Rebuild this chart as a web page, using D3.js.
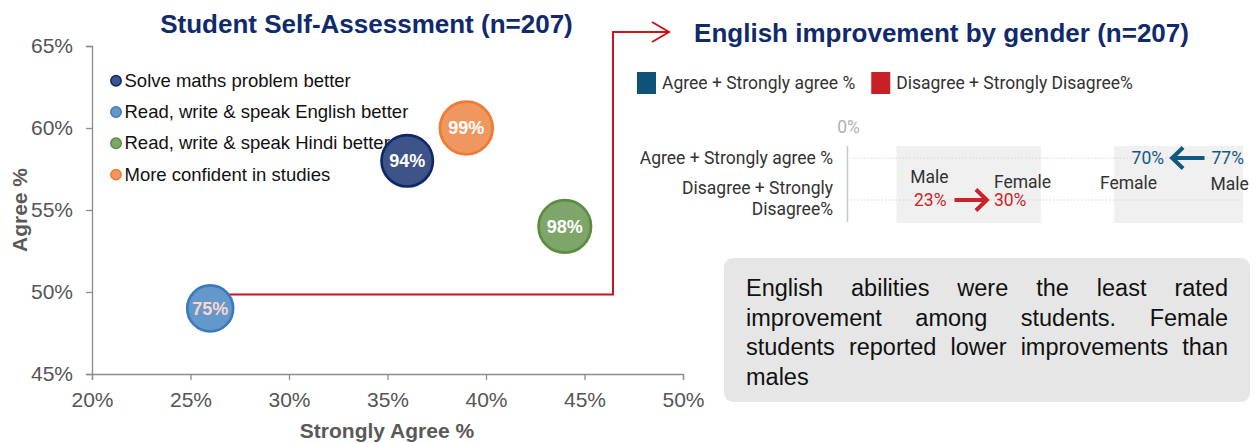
<!DOCTYPE html>
<html>
<head>
<meta charset="utf-8">
<script src="https://cdn.jsdelivr.net/npm/d3@7"></script>
<style>
  html, body { margin: 0; padding: 0; background: #fff; }
  svg { display: block; }
</style>
</head>
<body>
<svg id="chart" width="1257" height="443"></svg>
<script>
// ---------- Student self-assessment (bubble chart) ----------
const skills = [
  "Solve maths problem better",
  "Read, write & speak English better",
  "Read, write & speak Hindi better",
  "More confident in studies"
];
const stronglyAgreePct = [36, 26, 44, 39];
const agreePct = [58, 49, 54, 60];
const totalAgreePct = [94, 75, 98, 99];
const xTickValues = [20, 25, 30, 35, 40, 45, 50];
const yTickValues = [45, 50, 55, 60, 65];

// ---------- English improvement by gender ----------
const responses = ["Agree + Strongly agree %", "Disagree + Strongly Disagree%"];
const malePct = [77, 23];
const femalePct = [70, 30];
const genders = ["Male", "Female"];
const axisTicks = [0];

const noteLines = [
  "English abilities were the least rated",
  "improvement among students. Female",
  "students reported lower improvements than",
  "males"
];

const ARIAL = "'Liberation Sans', Arial, Helvetica, sans-serif";
const ROBOTO = "Roboto, 'Noto Sans', sans-serif";
const svg = d3.select("#chart");

// ===== Left panel =====
const x = d3.scaleLinear().domain([20, 50]).range([92, 683]);
const y = d3.scaleLinear().domain([45, 65]).range([374, 46]);
const r = d3.scaleSqrt().domain([0, 100]).range([0, 26.5]);
const bubbleFill = ["#3e5488", "#6598ca", "#7ea66a", "#f0975f"];
const bubbleStroke = ["#0e2868", "#3b7bbd", "#5b8d3d", "#ee7b35"];
const bubbleText = ["#ffffff", "#fad5cd", "#ffffff", "#ffffff"];

svg.append("text")
  .attr("x", 366.5).attr("y", 33)
  .attr("text-anchor", "middle")
  .style("font", `bold 26px ${ARIAL}`)
  .attr("fill", "#102a6b")
  .text("Student Self-Assessment (n=207)");

const xAxisG = svg.append("g")
  .attr("transform", "translate(0,374)")
  .call(d3.axisBottom(x).tickValues(xTickValues).tickSize(6).tickPadding(12).tickFormat(d => d + "%"));
const yAxisG = svg.append("g")
  .attr("transform", "translate(92,0)")
  .call(d3.axisLeft(y).tickValues(yTickValues).tickSize(6).tickPadding(13).tickFormat(d => d + "%"));
[xAxisG, yAxisG].forEach(g => {
  g.selectAll("path, line").attr("stroke", "#8c8c8c").attr("stroke-width", 1.3);
  g.selectAll("text").attr("fill", "#555555").style("font", `21px ${ARIAL}`);
});

svg.append("text")
  .attr("transform", "translate(27,210) rotate(-90)")
  .attr("text-anchor", "middle")
  .style("font", `bold 21px ${ARIAL}`)
  .attr("fill", "#595959")
  .text("Agree %");

svg.append("text")
  .attr("x", 387).attr("y", 438)
  .attr("text-anchor", "middle")
  .style("font", `bold 21px ${ARIAL}`)
  .attr("fill", "#595959")
  .text("Strongly Agree %");

// legend
const legend = svg.append("g");
skills.forEach((s, i) => {
  const by = 86.7 + i * 31.3;
  legend.append("circle")
    .attr("cx", 116).attr("cy", by - 6).attr("r", 5.2)
    .attr("fill", bubbleFill[i]).attr("stroke", bubbleStroke[i]).attr("stroke-width", 1.5);
  legend.append("text")
    .attr("x", 124.5).attr("y", by)
    .style("font", `18.5px ${ARIAL}`)
    .attr("fill", "#111")
    .text(s);
});

// connector from the English bubble to the gender panel
const cx0 = x(stronglyAgreePct[1]) + 12;
const cy0 = y(agreePct[1]) - 14;
svg.append("path")
  .attr("d", `M${cx0},${cy0} H613 V32 H668`)
  .attr("fill", "none").attr("stroke", "#c9141c").attr("stroke-width", 2);
svg.append("path")
  .attr("d", "M652,22 L669,32 L652,42")
  .attr("fill", "none").attr("stroke", "#c9141c").attr("stroke-width", 2);

// bubbles
const bubbles = svg.append("g").selectAll("g")
  .data(skills.map((s, i) => ({ s, i, sx: stronglyAgreePct[i], ay: agreePct[i], t: totalAgreePct[i] })))
  .join("g")
  .attr("transform", d => `translate(${x(d.sx)},${y(d.ay)})`);
bubbles.append("circle")
  .attr("r", d => r(d.t))
  .attr("fill", d => bubbleFill[d.i])
  .attr("stroke", d => bubbleStroke[d.i])
  .attr("stroke-width", 2.7);
bubbles.append("text")
  .attr("text-anchor", "middle")
  .attr("dy", "0.36em")
  .style("font", `bold 18px ${ARIAL}`)
  .attr("fill", d => bubbleText[d.i])
  .text(d => d.t + "%");

// ===== Right panel =====
svg.append("text")
  .attr("x", 941.5).attr("y", 42)
  .attr("text-anchor", "middle")
  .style("font", `bold 26px ${ARIAL}`)
  .attr("fill", "#102a6b")
  .text("English improvement by gender (n=207)");

const rowColor = ["#0f5a80", "#cc2229"];
const swatchColor = ["#0e5277", "#c91f26"];

// legend
const rl = svg.append("g");
let lx = 637;
responses.forEach((resp, i) => {
  rl.append("rect").attr("x", lx).attr("y", 72).attr("width", 19).attr("height", 22).attr("fill", swatchColor[i]);
  const t = rl.append("text")
    .attr("x", lx + 25).attr("y", 89)
    .style("font", `17.5px ${ROBOTO}`)
    .attr("fill", "#333")
    .text(resp);
  lx += 25 + t.node().getComputedTextLength() + 16;
});

const gx = d3.scaleLinear().domain([0, 100]).range([848, 1311]);
const gy = d3.scalePoint().domain(responses).range([158, 200]);
const plotRight = 1243;

const rows = responses.map((resp, i) => {
  const lo = Math.min(malePct[i], femalePct[i]);
  const hi = Math.max(malePct[i], femalePct[i]);
  return { resp, i, male: malePct[i], female: femalePct[i], lo, hi,
           loGender: malePct[i] <= femalePct[i] ? genders[0] : genders[1],
           hiGender: malePct[i] <= femalePct[i] ? genders[1] : genders[0] };
});

// highlight bands behind each pair
svg.append("g").selectAll("rect")
  .data(rows)
  .join("rect")
  .attr("x", d => gx(d.lo) - 58)
  .attr("y", 146)
  .attr("width", d => Math.min(gx(d.hi) + 54, plotRight) - (gx(d.lo) - 58))
  .attr("height", 77)
  .attr("fill", "#f0f0f0");

// dotted row guides
svg.append("g").selectAll("line")
  .data(responses)
  .join("line")
  .attr("x1", 850).attr("x2", plotRight)
  .attr("y1", d => gy(d)).attr("y2", d => gy(d))
  .attr("stroke", "#d4d4d4").attr("stroke-width", 1).attr("stroke-dasharray", "1.5,2");

// value axis: only the zero tick, drawn on top
const topAxis = svg.append("g")
  .attr("transform", "translate(0,146)")
  .call(d3.axisTop(gx).tickValues(axisTicks).tickSize(0).tickPadding(13).tickFormat(d => d + "%"));
topAxis.select(".domain").remove();
topAxis.selectAll("text").attr("fill", "#b0b0b0").style("font", `17.5px ${ROBOTO}`);

svg.append("line")
  .attr("x1", gx(0) - 0.5).attr("x2", gx(0) - 0.5)
  .attr("y1", 146).attr("y2", 222)
  .attr("stroke", "#c8c8c8").attr("stroke-width", 1.5);

// row labels, wrapped to the label column width
const labelG = svg.append("g");
responses.forEach(resp => {
  const words = resp.split(" ");
  const lines = [];
  let cur = [];
  const probe = labelG.append("text").style("font", `17.5px ${ROBOTO}`);
  words.forEach(w => {
    const test = cur.concat([w]).join(" ");
    probe.text(test);
    if (cur.length && probe.node().getComputedTextLength() > 200) {
      lines.push(cur.join(" "));
      cur = [w];
    } else {
      cur.push(w);
    }
  });
  lines.push(cur.join(" "));
  probe.remove();
  const lh = 21.5;
  const cy = gy(resp) - (lines.length - 1) * lh / 2 + (lines.length > 1 ? -1.5 : 0);
  lines.forEach((ln, k) => {
    labelG.append("text")
      .attr("x", 833).attr("y", cy + k * lh + 6.2)
      .attr("text-anchor", "end")
      .style("font", `17.5px ${ROBOTO}`)
      .attr("fill", "#333")
      .text(ln);
  });
});

// arrows: male -> female
const arrows = svg.append("g");
rows.forEach(d => {
  const yy = gy(d.resp);
  const x1 = gx(d.male), x2 = gx(d.female);
  const dir = Math.sign(x2 - x1);
  arrows.append("line")
    .attr("x1", x1).attr("x2", x2 - dir * 2)
    .attr("y1", yy).attr("y2", yy)
    .attr("stroke", rowColor[d.i]).attr("stroke-width", 4);
  arrows.append("path")
    .attr("d", `M${x2 - dir * 11},${yy - 10.5} L${x2},${yy} L${x2 - dir * 11},${yy + 10.5}`)
    .attr("fill", "none").attr("stroke", rowColor[d.i]).attr("stroke-width", 4)
    .attr("stroke-linejoin", "miter");
});

// value and gender labels
const vl = svg.append("g").style("font", `17.5px ${ROBOTO}`);
rows.forEach(d => {
  const yy = gy(d.resp);
  vl.append("text").attr("x", gx(d.lo) - 8).attr("y", yy + 6.2)
    .attr("text-anchor", "end").attr("fill", rowColor[d.i]).text(d.lo + "%");
  vl.append("text").attr("x", gx(d.hi) + 7).attr("y", yy + 6.2)
    .attr("text-anchor", "start").attr("fill", rowColor[d.i]).text(d.hi + "%");
  const above = d.i === 1;
  vl.append("text")
    .attr("x", gx(d.lo) - (above ? 6 : 15))
    .attr("y", above ? yy - 17 : yy + 31)
    .attr("text-anchor", "end").attr("fill", "#333").text(d.loGender);
  vl.append("text")
    .attr("x", gx(d.hi) + (above ? 7 : 6))
    .attr("y", above ? yy - 12 : yy + 32)
    .attr("text-anchor", "start").attr("fill", "#333").text(d.hiGender);
});

// ===== Note box =====
svg.append("rect")
  .attr("x", 724).attr("y", 258).attr("width", 526).attr("height", 144)
  .attr("rx", 9).attr("fill", "#e6e6e6");

const noteSize = 23.5;
const noteG = svg.append("g").style("font", `${noteSize}px ${ARIAL}`).attr("fill", "#111");
const noteLeft = 746, noteRight = 1228;
noteLines.forEach((line, li) => {
  const by = 296 + li * 29.6;
  const words = line.split(" ");
  const nodes = words.map(w => noteG.append("text").attr("y", by).text(w));
  const widths = nodes.map(n => n.node().getComputedTextLength());
  const total = d3.sum(widths);
  const last = li === noteLines.length - 1;
  const gap = (!last && words.length > 1) ? (noteRight - noteLeft - total) / (words.length - 1) : noteSize * 0.278;
  let cx = noteLeft;
  nodes.forEach((n, k) => {
    n.attr("x", cx);
    cx += widths[k] + gap;
  });
});
</script>
</body>
</html>
